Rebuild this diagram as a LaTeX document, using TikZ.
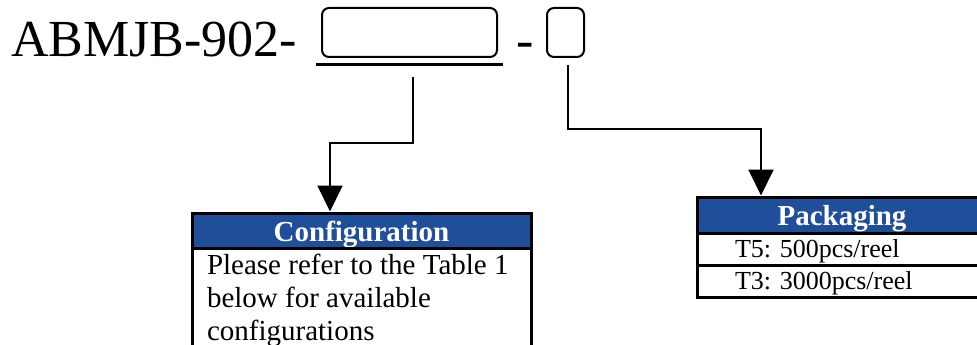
\documentclass[tikz,border=0pt]{standalone}
\usepackage{fontspec}
\setmainfont{Liberation Serif}
\usetikzlibrary{arrows.meta}
\definecolor{hdrblue}{HTML}{1F4E9A}
\frenchspacing
\begin{document}
\begin{tikzpicture}[x=1pt,y=-1pt,
  big/.style={font=\fontsize{52}{60}\selectfont,inner sep=0,outer sep=0,anchor=base west},
  slot/.style={draw,line width=2pt,rounded corners=7pt,minimum height=49pt,inner sep=0,outer sep=0},
  link/.style={line width=2pt},
  arr/.style={line width=2pt,-{Triangle[width=25pt,length=26pt]}},
  hdr/.style={draw,line width=3pt,fill=hdrblue,text=white,font=\bfseries\fontsize{29}{33}\selectfont,
    inner sep=0,outer sep=0,anchor=north west,text depth=0pt},
  cellbox/.style={draw,line width=3pt,inner sep=0,outer sep=0,anchor=north west},
  body/.style={font=\fontsize{29}{33}\selectfont,inner sep=0,outer sep=0,anchor=base west},
  prow/.style={cellbox,font=\fontsize{26}{30}\selectfont,minimum width=290pt,minimum height=32pt,
    text width=214pt,inner xsep=38pt,inner ysep=0pt,align=left,text height=16pt,text depth=0pt}
]
\clip (0,0) rectangle (977,345);
% part number
\node[big] (pn) at (11,57) {ABMJB-902-};
\node[slot,minimum width=175pt] (b1) at (409.5,32.5) {};
\node[big] (dash) at (516,58) {-};
\node[slot,minimum width=37pt] (b2) at (565.5,32.5) {};
\coordinate (u1) at (316,65);
\coordinate (u2) at (503,65);
\draw[line width=3pt] (u1) -- (u2);
% configuration table
\node[hdr,minimum width=339pt,minimum height=35pt,text height=21pt] (cf) at (192,213) {Configuration};
\node[cellbox,minimum width=339pt,minimum height=140pt] (cb) at (192,248) {};
\node[body] (c1) at (207,274) {Please refer to the Table 1};
\node[body] (c2) at (207,307) {below for available};
\node[body] (c3) at (207,340) {configurations};
% packaging table
\node[hdr,minimum width=290pt,minimum height=36pt,text height=20pt] (pk) at (697,197) {Packaging};
\node[prow] (p1) at (697,233) {T5: 500pcs/reel};
\node[prow] (p2) at (697,265) {T3: 3000pcs/reel};
% connectors
\coordinate (s1) at (413,77);
\coordinate (t1) at (330,0);
\coordinate (s2) at (568,65);
\coordinate (t2) at (761,0);
\draw[arr,shorten >=1.5pt] (s1) |- (330,143) -- (cf.north -| t1);
\draw[arr,shorten >=1.5pt] (s2) |- (761,129) -- (pk.north -| t2);
\end{tikzpicture}
\end{document}
